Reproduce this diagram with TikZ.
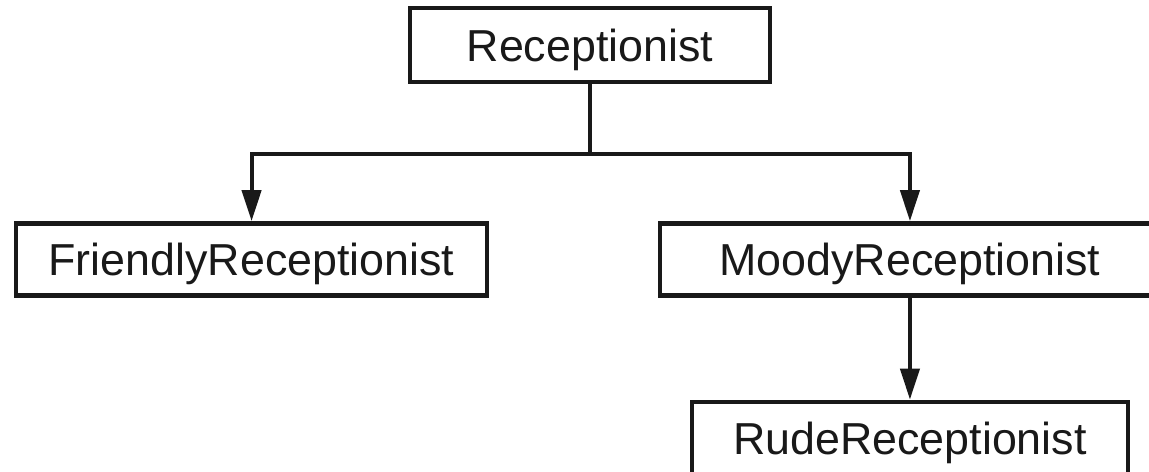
\documentclass[tikz,border=0pt]{standalone}
\usepackage{fontspec}
\setmainfont{Liberation Sans}
\usetikzlibrary{arrows.meta, positioning}

\tikzset{
  cls/.style={draw=black!90, line width=2.6pt, inner xsep=0pt, inner ysep=0pt,
    text height=0.64cm, text depth=0pt, minimum height=1.44cm,
    font=\fontsize{25.5}{30}\selectfont, text=black!90},
  inherit/.style={draw=black!90, line width=2.3pt,
    -{Triangle[length=0.62cm, width=0.38cm]}}
}

\begin{document}
\begin{tikzpicture}[x=0.02cm, y=-0.02cm, on grid]
      \useasboundingbox (0,0) rectangle (1149,471);
      \node[cls, minimum width=7.2cm, minimum height=1.48cm] (recep) at (590,45) {Receptionist};
      \node[cls, minimum width=9.42cm] (friendly) [below left=4.29cm and 6.77cm of recep] {FriendlyReceptionist};
      \node[cls, minimum width=10cm] (moody) [below right=4.29cm and 6.4cm of recep] {MoodyReceptionist};
      \node[cls, minimum width=8.72cm, minimum height=1.46cm] (rude) [below=3.58cm of moody] {RudeReceptionist};
      \path (recep.south) ++(0,70) coordinate (fork);
      \draw[draw=black!90, line width=2.3pt] (recep.south) -- (fork);
      \draw[inherit] (fork) -| (friendly.north);
      \draw[inherit] (fork) -| (moody.north);
      \draw[inherit] (moody.south) -- (rude.north);
    \end{tikzpicture}
\end{document}
